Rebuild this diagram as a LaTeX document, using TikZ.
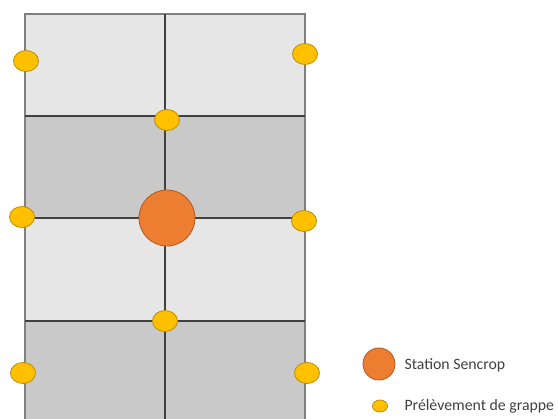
\documentclass[tikz,border=0pt]{standalone}
\usepackage{fontspec}
\setmainfont{Carlito}
\usetikzlibrary{shapes.geometric}
\definecolor{LightClr}{RGB}{230,230,230}
\definecolor{DarkClr}{RGB}{201,201,201}
\definecolor{StationClr}{RGB}{237,125,49}
\definecolor{StationLine}{RGB}{174,90,33}
\definecolor{SampleClr}{RGB}{255,192,0}
\definecolor{SampleLine}{RGB}{188,140,0}
\definecolor{TextClr}{RGB}{64,64,64}

\begin{document}
\begin{tikzpicture}[x=1pt,y=-1pt,
  sample/.style={ellipse,draw=SampleLine,fill=SampleClr,line width=0.8pt,
    minimum width=25pt,minimum height=21pt,inner sep=0pt},
  station/.style={circle,draw=StationLine,fill=StationClr,line width=0.8pt,
    minimum size=56pt,inner sep=0pt},
  legend/.style={anchor=west,text=TextClr,font=\fontsize{15.8}{18}\selectfont}]
\useasboundingbox (0,0) rectangle (558,419);
\clip (0,0) rectangle (558,419);

% rows of the plot
\fill[LightClr] (25,14) rectangle (305,116);
\fill[DarkClr] (25,116) rectangle (305,218);
\fill[LightClr] (25,218) rectangle (305,321);
\fill[DarkClr] (25,321) rectangle (305,430);

% border and inner lines
\draw[gray,line width=1.2pt] (25,430) -- (25,14) -- (305,14) -- (305,430);
\draw[black!75,line width=1.5pt] (165,14) -- (165,430);
\foreach \y in {116,218,321}
  \draw[black!75,line width=1.5pt] (25,\y) -- (305,\y);

% sensor station
\node[station] (st) at (167,218) {};

% grape samples
\node[sample] (s1) at (26,61) {};
\node[sample] (s2) at (305,54) {};
\node[sample] (s3) at (167,120) {};
\node[sample] (s4) at (22,217) {};
\node[sample] (s5) at (304,221) {};
\node[sample] (s6) at (165,321) {};
\node[sample] (s7) at (23,373) {};
\node[sample] (s8) at (307,373) {};

% legend
\node[station,minimum size=32pt] (lst) at (379,364) {};
\node[legend] (lsttxt) at (401,365) {Station Sencrop};
\node[sample,minimum width=15pt,minimum height=12pt] (lsa) at (380,406) {};
\node[legend] (lsatxt) at (401,406) {Prélèvement de grappe};
\end{tikzpicture}
\end{document}
